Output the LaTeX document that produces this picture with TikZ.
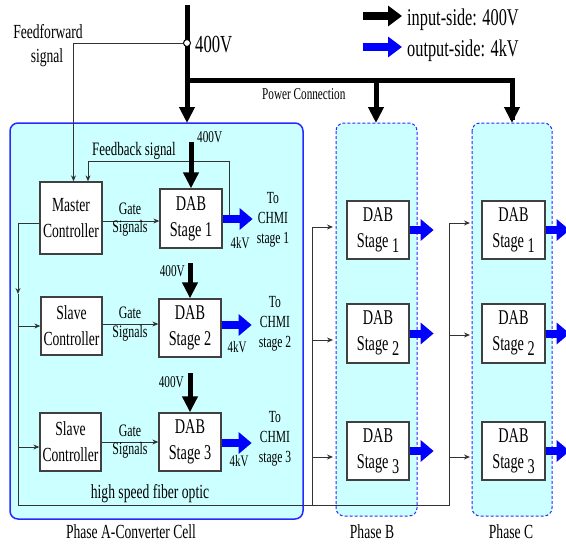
\documentclass[tikz,border=0pt]{standalone}
\usepackage{fontspec}
\setmainfont{Liberation Serif}[FakeStretch=0.68]
\usetikzlibrary{arrows.meta}
\definecolor{cellfill}{RGB}{204,255,255}
\definecolor{cellblue}{RGB}{40,40,255}
\begin{document}
\begin{tikzpicture}[x=1pt,y=-1pt,
 box/.style={draw=black!75, line width=1.3pt, fill=white, inner sep=0pt, align=center},
 ctrl/.style={box, minimum width=62pt, minimum height=58pt, font=\fontsize{20}{26}\selectfont},
 dab/.style={box, minimum width=62pt, minimum height=59pt, font=\fontsize{21}{26}\selectfont},
 sig/.style={draw=black!80, line width=1pt, -{Stealth[length=6pt,width=5pt]}},
 fib/.style={draw=black!80, line width=1pt},
 pow/.style={line width=5pt, -{Triangle[length=16pt,width=15pt]}},
 powline/.style={line width=5pt},
 bpow/.style={blue, line width=8pt, -{Triangle[length=13pt,width=21pt]}},
 lbl/.style={inner sep=0pt, anchor=base},
 small/.style={lbl, font=\fontsize{17}{20}\selectfont},
 cellA/.style={draw=cellblue, line width=1.5pt, fill=cellfill, rounded corners=8pt},
 cellBC/.style={draw=cellblue, line width=1pt, densely dashed, fill=cellfill, rounded corners=8pt}
]
\useasboundingbox (0,0) rectangle (566,544);

% phase containers
\draw[cellA] (10,123) rectangle (303,519);
\draw[cellBC] (336,123) rectangle (417,516);
\draw[cellBC] (472,123) rectangle (552,516);

% legend
\coordinate (lgA1) at (363,16); \coordinate (lgA2) at (402,16);
\coordinate (lgB1) at (363,47); \coordinate (lgB2) at (402,47);
\draw[line width=8pt, -{Triangle[length=14pt,width=20pt]}] (lgA1) -- (lgA2);
\draw[blue, line width=8pt, -{Triangle[length=14pt,width=20pt]}] (lgB1) -- (lgB2);
\node[lbl, anchor=base west, font=\fontsize{24}{28}\selectfont] (lgt1) at (407,25) {input-side: 400V};
\node[lbl, anchor=base west, font=\fontsize{24}{28}\selectfont] (lgt2) at (407,56) {output-side: 4kV};

% main power feed
\coordinate (ptop) at (187,5);
\coordinate (ptip) at (187,123);
\coordinate (pj) at (187,80);
\coordinate (pBj) at (376,80);
\coordinate (pB) at (376,123);
\coordinate (pC) at (512,123);
\draw[pow] (ptop) -- (ptip);
\draw[powline] (pj) -| ([yshift=10pt]pC);
\draw[pow] ([yshift=3pt]pC) -- (pC);
\draw[pow] (pBj) -- (pB);
\node[lbl, anchor=base west, font=\fontsize{16.5}{20}\selectfont] (pcl) at (262,99) {Power Connection};

% controllers and DAB stages, phase A
\node[ctrl, minimum height=72pt] (M) at (71,218) {Master\\Controller};
\node[ctrl, minimum width=61pt] (S2) at (71.5,326) {Slave\\Controller};
\node[ctrl, minimum width=61pt] (S3) at (70.5,442) {Slave\\Controller};
\node[dab] (A1) at (191,218.5) {DAB\\Stage 1};
\node[dab, minimum height=58pt] (A2) at (190,328) {DAB\\Stage 2};
\node[dab, minimum height=58pt] (A3) at (190,442) {DAB\\Stage 3};

% feedforward
\node[circle, draw, line width=1pt, fill=white, inner sep=0pt, minimum size=7pt] (ff) at (187,43) {};
\draw[sig] (ff.west) -| ([xshift=2.5pt]M.north);
\node[lbl, font=\fontsize{20}{24}\selectfont] (fft1) at (48,38) {Feedforward};
\node[lbl, font=\fontsize{20}{24}\selectfont] (fft2) at (47,62) {signal};
\node[lbl, anchor=base west, font=\fontsize{24.5}{28}\selectfont] (ffv) at (195,52) {400V};

% feedback
\coordinate (fb1) at (229,219);
\coordinate (fb2) at (229,161);
\draw[sig] (fb1) -- (fb2) -| ([xshift=17pt]M.north);
\node[lbl, font=\fontsize{19}{22}\selectfont] (fbt) at (134,155) {Feedback signal};

% gate signals
\draw[sig] ([yshift=-3pt]M.east) -- ([yshift=-3pt]M.east -| A1.west);
\draw[sig] ([yshift=2pt]S2.east) -- ([yshift=2pt]S2.east -| A2.west);
\draw[sig] (S3.east) -- (S3.east -| A3.west);
\node[lbl, font=\fontsize{17.5}{20}\selectfont] (g1a) at (130,214) {Gate};
\node[lbl, font=\fontsize{17.5}{20}\selectfont] (g1b) at (130,232) {Signals};
\node[lbl, font=\fontsize{17.5}{20}\selectfont] (g2a) at (130,318) {Gate};
\node[lbl, font=\fontsize{17.5}{20}\selectfont] (g2b) at (130,337) {Signals};
\node[lbl, font=\fontsize{17.5}{20}\selectfont] (g3a) at (130,436) {Gate};
\node[lbl, font=\fontsize{17.5}{20}\selectfont] (g3b) at (130,454) {Signals};

% 400V inputs to DAB stages
\coordinate (v1) at (191,142);
\coordinate (v2) at (190,263);
\coordinate (v3) at (190,373);
\draw[pow] (v1) -- (A1.north);
\draw[pow] (v2) -- (A2.north);
\draw[pow] (v3) -- (A3.north);
\node[lbl, anchor=base west, font=\fontsize{16.5}{20}\selectfont] (v1t) at (197,142) {400V};
\node[lbl, anchor=base east, font=\fontsize{16.5}{20}\selectfont] (v2t) at (185,276) {400V};
\node[lbl, anchor=base east, font=\fontsize{16.5}{20}\selectfont] (v3t) at (184,387) {400V};

% outputs phase A
\draw[bpow] ([yshift=-0.5pt]A1.east) -- ++(30,0);
\draw[bpow] ([yshift=3pt]A2.east) -- ++(30,0);
\draw[bpow] ([yshift=-1pt]A3.east) -- ++(30,0);
\node[lbl, font=\fontsize{16}{20}\selectfont] (k1) at (240,248) {4kV};
\node[lbl, font=\fontsize{16}{20}\selectfont] (k2) at (237,352) {4kV};
\node[lbl, font=\fontsize{16}{20}\selectfont] (k3) at (239,466) {4kV};
\node[small] (t1a) at (273,203) {To};
\node[small] (t1b) at (273,223) {CHMI};
\node[small] (t1c) at (273,243) {stage 1};
\node[small] (t2a) at (275,307) {To};
\node[small] (t2b) at (275,327) {CHMI};
\node[small] (t2c) at (275,347) {stage 2};
\node[small] (t3a) at (275,422) {To};
\node[small] (t3b) at (275,442) {CHMI};
\node[small] (t3c) at (275,462) {stage 3};

% fiber optic bus
\coordinate (fL) at (18,223);
\coordinate (fLm) at (18,294);
\coordinate (fBL) at (18,505);
\coordinate (fBR) at (449,505);
\coordinate (fB) at (312,505);
\draw[sig] ([yshift=-5pt]M.west) -- (fL) -- (fLm);
\draw[fib] (fLm) -- (fBL) -- (fBR) -- (449,223);
\draw[fib] (fB) -- (312,227);
\draw[sig] (S2.west -| fL) -- (S2.west);
\draw[sig] ([yshift=-5pt]S3.west -| fL) -- ([yshift=-5pt]S3.west);
\node[lbl, font=\fontsize{20}{24}\selectfont] (hsf) at (150,498) {high speed fiber optic};

% phase B / C stages
\node[dab, minimum height=58pt] (B1) at (378,230) {DAB\\Stage\,\raisebox{-5pt}{1}};
\node[dab, minimum height=59pt] (B2) at (378,333.5) {DAB\\Stage\,\raisebox{-5pt}{2}};
\node[dab, minimum height=58pt] (B3) at (378,451) {DAB\\Stage\,\raisebox{-5pt}{3}};
\node[dab, minimum width=63pt, minimum height=58pt] (C1) at (513.5,230) {DAB\\Stage\,\raisebox{-5pt}{1}};
\node[dab, minimum width=63pt, minimum height=59pt] (C2) at (513.5,333.5) {DAB\\Stage\,\raisebox{-5pt}{2}};
\node[dab, minimum width=63pt, minimum height=58pt] (C3) at (513.5,451) {DAB\\Stage\,\raisebox{-5pt}{3}};
\draw[sig] (312,227) -- (333,227);
\draw[sig] (312,340) -- (333,340);
\draw[sig] (312,457) -- (333,457);
\draw[sig] (449,223) -- (470,223);
\draw[sig] (449,335) -- (470,335);
\draw[sig] (449,457) -- (470,457);
\draw[bpow] (B1.east) -- ++(24,0);
\draw[bpow] (B2.east) -- ++(24,0);
\draw[bpow] (B3.east) -- ++(24,0);
\draw[bpow] (C1.east) -- ++(24,0);
\draw[bpow] (C2.east) -- ++(24,0);
\draw[bpow] (C3.east) -- ++(24,0);

% phase labels
\node[lbl, font=\fontsize{20}{24}\selectfont] (pa) at (131,538) {Phase A-Converter Cell};
\node[lbl, font=\fontsize{20}{24}\selectfont] (pbl) at (372,538) {Phase B};
\node[lbl, font=\fontsize{20}{24}\selectfont] (pcl2) at (511,538) {Phase C};
\end{tikzpicture}
\end{document}
